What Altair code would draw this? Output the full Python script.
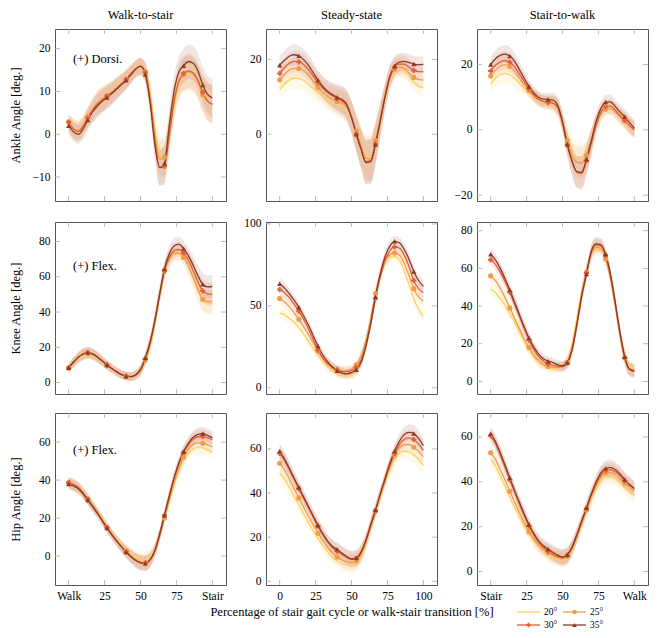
import altair as alt
import pandas as pd

FONT = "Liberation Serif"
SERIES = ["20°", "25°", "30°", "35°"]
COLORS = ["#FCD25B", "#F29A4A", "#E25F37", "#8C3A27"]
SHAPES = ["circle", "circle", "cross", "triangle-up"]

# sampling grid (% of cycle) and marker positions
X = [0, 3.33, 6.67, 10, 13.33, 16.67, 20, 23.33, 26.67, 30, 33.33, 36.67, 40, 43.33, 46.67,
     50, 53.33, 56.67, 60, 63.33, 66.67, 70, 73.33, 76.67, 80, 83.33, 86.67, 90, 93.33, 96.67, 100]
MARK_X = [0, 13.33, 26.67, 40, 53.33, 66.67, 80, 93.33]
X_TICKS = [0, 25, 50, 75, 100]

# ---------------- Ankle ----------------
ankle_ws_20 = [2.6, 1.3, 1.0, 2.2, 4.2, 6.0, 7.4, 8.4, 9.2, 10.0, 11.0, 12.0, 13.0, 14.2, 15.2, 15.6, 14.8, 10.0, 1.5, -4.2, -5.5, -1.0, 6.5, 11.5, 13.5, 14.3, 13.9, 12.0, 9.2, 7.6, 7.2]
ankle_ws_25 = [2.9, 1.4, 0.9, 2.1, 4.1, 5.9, 7.3, 8.3, 9.1, 9.9, 10.9, 11.9, 12.9, 14.2, 15.3, 15.8, 14.6, 8.8, 0.0, -5.8, -5.3, 0.5, 8.0, 12.3, 14.0, 14.6, 14.1, 12.3, 9.3, 7.6, 7.0]
ankle_ws_30 = [2.8, 1.2, 0.6, 1.8, 3.8, 5.6, 7.0, 8.0, 8.8, 9.7, 10.7, 11.7, 12.8, 14.1, 15.3, 15.9, 14.5, 8.0, -1.5, -7.8, -7.5, -0.5, 7.5, 12.3, 14.2, 14.8, 14.3, 12.6, 9.8, 7.8, 7.0]
ankle_ws_35 = [2.0, 0.6, 0.0, 1.2, 3.3, 5.2, 6.6, 7.7, 8.6, 9.5, 10.5, 11.6, 12.6, 13.9, 15.2, 15.9, 14.0, 7.5, -2.5, -7.8, -6.8, 2.0, 10.0, 14.5, 16.0, 17.0, 16.6, 14.8, 11.5, 9.3, 8.5]
ankle_ws_sd = [2.0, 2.2, 2.3, 2.3, 2.4, 2.6, 2.8, 2.8, 2.7, 2.6, 2.5, 2.3, 2.2, 2.1, 2.0, 2.0, 2.3, 3.0, 3.5, 4.2, 4.5, 4.0, 3.6, 3.8, 4.0, 4.0, 4.0, 4.0, 4.2, 4.4, 4.5]

ankle_ss_20 = [11.8, 13.4, 14.5, 15.0, 14.9, 14.4, 13.4, 12.3, 11.2, 10.2, 9.3, 8.6, 8.1, 7.7, 6.8, 4.4, 0.8, -3.0, -6.0, -6.3, -2.5, 3.5, 10.0, 14.8, 17.0, 17.5, 16.9, 15.6, 14.0, 12.9, 12.4]
ankle_ss_25 = [14.6, 16.0, 17.2, 17.7, 17.6, 17.0, 15.8, 14.2, 12.6, 11.3, 10.2, 9.4, 8.8, 8.3, 7.2, 4.6, 0.8, -3.0, -6.4, -6.6, -1.7, 4.2, 10.5, 15.2, 17.4, 18.0, 17.6, 16.4, 15.2, 14.7, 14.5]
ankle_ss_30 = [16.3, 17.8, 19.0, 19.5, 19.4, 18.7, 17.3, 15.6, 13.9, 12.4, 11.2, 10.3, 9.5, 8.9, 7.7, 4.5, 0.0, -4.0, -7.3, -7.1, -2.6, 3.6, 10.0, 15.2, 17.8, 18.8, 18.8, 18.0, 17.1, 16.8, 16.8]
ankle_ss_35 = [18.5, 19.8, 20.9, 21.3, 21.0, 20.0, 18.5, 16.5, 14.5, 12.8, 11.5, 10.6, 9.9, 9.3, 8.0, 4.5, 0.0, -4.0, -7.6, -7.4, -2.8, 3.5, 10.0, 15.5, 18.3, 19.3, 19.5, 19.2, 18.8, 18.6, 18.7]
ankle_ss_sd = [2.5, 2.6, 2.7, 2.8, 2.8, 2.8, 2.8, 2.8, 2.8, 2.9, 3.0, 3.2, 3.4, 3.6, 3.9, 4.3, 4.8, 5.3, 5.8, 6.0, 5.5, 4.5, 3.5, 3.0, 2.6, 2.4, 2.3, 2.2, 2.2, 2.2, 2.2]

ankle_sw_20 = [14.0, 15.8, 16.9, 17.2, 16.8, 15.7, 14.2, 12.8, 11.5, 10.2, 9.0, 8.3, 8.0, 7.8, 6.7, 3.0, -2.0, -6.0, -8.6, -9.2, -7.8, -3.5, 1.5, 5.0, 6.7, 7.0, 6.0, 4.4, 3.0, 1.5, 0.3]
ankle_sw_25 = [16.5, 18.3, 19.5, 20.0, 19.4, 18.0, 15.9, 13.8, 12.0, 10.4, 9.3, 8.7, 8.5, 8.3, 7.0, 2.5, -3.3, -7.8, -10.0, -10.2, -7.8, -3.3, 1.5, 4.8, 6.3, 6.5, 5.5, 3.9, 2.7, 1.2, 0.0]
ankle_sw_30 = [18.0, 19.8, 20.8, 21.2, 20.7, 19.3, 17.1, 14.8, 12.6, 10.7, 9.4, 8.7, 8.4, 8.2, 6.8, 2.0, -4.5, -9.8, -13.0, -13.3, -9.5, -4.2, 1.3, 5.3, 7.1, 7.3, 6.1, 4.4, 2.9, 1.3, 0.0]
ankle_sw_35 = [20.0, 21.8, 22.8, 23.2, 22.6, 21.0, 18.5, 15.8, 13.3, 11.3, 10.0, 9.4, 9.3, 9.1, 7.5, 2.5, -4.5, -9.5, -12.8, -13.0, -9.0, -3.5, 2.5, 6.5, 8.5, 8.6, 7.2, 5.5, 4.0, 2.2, 0.5]
ankle_sw_sd = [2.4, 2.6, 2.8, 2.8, 2.8, 2.6, 2.4, 2.2, 2.0, 2.0, 2.0, 2.0, 2.1, 2.3, 2.6, 3.0, 3.6, 4.3, 4.8, 5.0, 4.6, 3.8, 3.0, 2.4, 2.2, 2.2, 2.2, 2.3, 2.4, 2.5, 2.5]

# ---------------- Knee ----------------
knee_ws_20 = [8.2, 11.0, 13.6, 15.4, 16.2, 15.7, 14.1, 12.0, 9.9, 8.0, 6.3, 4.8, 3.8, 3.5, 4.2, 6.4, 12.0, 20.5, 33.0, 48.0, 61.5, 69.5, 72.8, 73.0, 71.0, 66.0, 59.0, 52.0, 46.8, 45.0, 44.8]
knee_ws_25 = [8.3, 11.3, 14.0, 15.9, 16.6, 16.0, 14.3, 12.1, 9.9, 7.9, 6.1, 4.5, 3.5, 3.3, 4.1, 6.6, 12.8, 21.5, 34.5, 49.5, 63.5, 70.0, 73.5, 73.5, 71.0, 66.0, 59.5, 53.0, 47.3, 46.0, 46.0]
knee_ws_30 = [8.4, 11.5, 14.3, 16.2, 17.0, 16.3, 14.5, 12.3, 10.0, 8.0, 6.2, 4.6, 3.6, 3.4, 4.3, 7.0, 13.5, 22.5, 35.5, 50.5, 63.5, 71.0, 74.8, 75.5, 73.5, 69.5, 63.5, 57.0, 52.0, 50.3, 50.0]
knee_ws_35 = [8.4, 11.5, 14.3, 16.2, 17.0, 16.3, 14.5, 12.3, 10.0, 8.0, 6.2, 4.6, 3.6, 3.4, 4.4, 7.5, 14.0, 23.0, 35.0, 50.0, 64.5, 73.0, 77.5, 78.5, 76.0, 72.0, 66.5, 60.5, 55.8, 54.3, 54.5]
knee_ws_sd = [2.5, 2.8, 3.0, 3.2, 3.2, 3.1, 3.0, 2.8, 2.6, 2.5, 2.5, 2.5, 2.5, 2.5, 2.6, 3.0, 3.5, 4.0, 4.3, 4.5, 4.5, 4.3, 4.2, 4.2, 4.3, 4.8, 5.5, 6.0, 6.5, 6.5, 6.5]

knee_ss_20 = [45.5, 44.5, 42.5, 40.0, 36.8, 32.8, 28.5, 24.0, 19.8, 15.8, 12.8, 10.5, 8.8, 7.7, 7.2, 7.8, 10.0, 15.5, 25.5, 39.5, 55.0, 67.5, 76.0, 79.8, 80.2, 78.0, 71.5, 63.0, 54.5, 48.0, 43.5]
knee_ss_25 = [54.5, 52.5, 49.5, 45.8, 41.8, 37.3, 32.5, 27.5, 22.5, 18.0, 14.5, 12.0, 10.8, 10.3, 10.5, 11.5, 14.0, 19.5, 29.0, 42.5, 57.5, 69.5, 77.5, 81.3, 82.3, 81.0, 76.0, 68.5, 60.5, 55.5, 53.0]
knee_ss_30 = [60.0, 58.0, 55.0, 51.0, 46.8, 41.8, 36.0, 29.5, 23.0, 18.3, 15.0, 12.7, 11.0, 10.0, 9.8, 10.5, 12.5, 17.0, 26.0, 39.0, 54.5, 67.5, 77.5, 83.5, 86.0, 85.3, 81.0, 74.0, 65.5, 60.5, 58.0]
knee_ss_35 = [63.5, 61.0, 57.5, 53.5, 49.2, 44.0, 38.3, 31.8, 25.5, 20.0, 16.0, 12.8, 10.3, 9.0, 8.5, 9.2, 11.0, 15.5, 25.5, 39.0, 55.5, 69.5, 80.0, 86.5, 89.4, 88.5, 84.5, 78.5, 71.0, 65.5, 62.0]
knee_ss_sd = [3.5, 3.5, 3.4, 3.3, 3.2, 3.1, 3.0, 3.0, 3.0, 3.0, 3.0, 3.0, 3.0, 3.0, 3.0, 3.0, 3.2, 3.4, 3.6, 3.8, 3.8, 3.6, 3.4, 3.2, 3.2, 3.2, 3.3, 3.4, 3.5, 3.5, 3.5]

knee_sw_20 = [49.0, 47.0, 44.0, 40.3, 36.0, 31.3, 26.3, 21.3, 16.8, 13.0, 10.0, 8.0, 7.0, 6.6, 6.8, 8.0, 11.5, 20.0, 33.5, 48.0, 59.0, 67.0, 70.3, 69.8, 64.5, 55.0, 41.0, 26.0, 14.0, 8.0, 7.0]
knee_sw_25 = [56.0, 53.5, 49.5, 44.5, 39.0, 33.5, 28.0, 22.8, 18.0, 14.0, 11.0, 9.0, 7.9, 7.4, 7.4, 7.8, 10.0, 17.5, 31.0, 46.0, 58.0, 67.5, 71.3, 70.5, 65.0, 55.0, 40.5, 25.0, 12.5, 6.5, 6.0]
knee_sw_30 = [64.5, 62.0, 58.0, 53.0, 47.3, 41.0, 34.5, 28.0, 22.0, 17.0, 13.3, 10.8, 9.3, 8.5, 7.9, 7.8, 9.8, 17.0, 30.5, 45.5, 57.5, 68.5, 72.5, 72.0, 67.0, 56.5, 41.5, 25.5, 12.5, 6.3, 5.5]
knee_sw_35 = [67.5, 64.5, 60.0, 54.5, 48.5, 42.0, 35.5, 29.0, 23.0, 18.3, 14.5, 12.0, 10.7, 10.0, 8.8, 8.3, 10.0, 17.0, 30.0, 45.0, 57.0, 69.0, 73.0, 72.5, 67.5, 57.0, 42.0, 26.0, 13.0, 6.5, 5.5]
knee_sw_sd = [3.0, 3.2, 3.4, 3.5, 3.5, 3.5, 3.4, 3.3, 3.2, 3.0, 2.8, 2.6, 2.5, 2.5, 2.5, 2.6, 3.0, 3.4, 3.8, 4.0, 3.8, 3.6, 3.5, 3.5, 3.6, 3.8, 4.0, 4.0, 3.8, 3.5, 3.5]

# ---------------- Hip ----------------
hip_ws_20 = [38.0, 37.2, 35.8, 33.2, 29.9, 26.5, 23.0, 19.3, 15.5, 12.0, 8.8, 5.9, 3.3, 1.0, -0.6, -1.5, -1.6, -0.3, 3.5, 10.5, 19.5, 28.5, 37.3, 44.5, 50.3, 54.3, 56.5, 57.3, 57.0, 56.0, 54.5]
hip_ws_25 = [38.5, 37.5, 36.0, 33.2, 29.8, 26.3, 22.8, 19.0, 15.0, 11.5, 8.2, 5.2, 2.6, 0.2, -1.7, -3.0, -3.4, -2.0, 2.5, 10.5, 20.0, 29.5, 38.5, 46.0, 52.0, 56.3, 58.8, 59.6, 59.4, 58.5, 57.5]
hip_ws_30 = [38.8, 37.8, 36.2, 33.4, 30.0, 26.5, 22.9, 19.0, 15.0, 11.4, 8.0, 5.0, 2.3, -0.2, -2.2, -3.4, -3.6, -1.8, 3.0, 11.5, 21.5, 31.5, 41.0, 48.5, 54.5, 58.5, 61.5, 62.8, 63.0, 62.3, 61.3]
hip_ws_35 = [37.9, 37.0, 35.5, 32.8, 29.5, 26.0, 22.5, 18.7, 14.8, 11.3, 8.0, 5.0, 2.2, -0.3, -2.3, -3.5, -3.8, -2.0, 3.0, 11.5, 21.5, 31.5, 41.0, 49.0, 55.0, 59.5, 62.5, 64.0, 64.5, 63.5, 62.3]
hip_ws_sd = [3.0, 3.0, 3.0, 2.9, 2.8, 2.7, 2.6, 2.6, 2.6, 2.7, 2.8, 3.0, 3.2, 3.5, 3.8, 4.0, 4.0, 3.8, 3.5, 3.3, 3.2, 3.2, 3.2, 3.3, 3.4, 3.5, 3.5, 3.5, 3.5, 3.5, 3.5]

hip_ss_20 = [49.0, 46.3, 42.6, 38.5, 34.5, 30.5, 26.6, 22.9, 19.4, 16.2, 13.4, 11.0, 9.2, 8.0, 7.2, 6.9, 7.8, 11.0, 16.7, 24.0, 31.0, 38.0, 44.6, 50.5, 55.2, 58.0, 59.0, 58.7, 57.3, 55.2, 52.5]
hip_ss_25 = [53.5, 50.5, 46.5, 42.0, 37.8, 33.6, 29.5, 25.5, 21.8, 18.3, 15.3, 12.8, 11.0, 9.7, 8.8, 8.5, 9.3, 12.3, 17.8, 24.8, 32.0, 39.0, 45.8, 52.0, 57.3, 60.5, 62.0, 62.0, 60.8, 58.8, 56.5]
hip_ss_30 = [58.0, 54.8, 50.7, 46.3, 42.0, 37.7, 33.4, 29.2, 25.0, 21.2, 17.9, 15.3, 13.6, 12.2, 10.8, 9.9, 10.3, 13.0, 18.3, 25.2, 32.0, 39.3, 46.0, 52.5, 58.0, 62.0, 64.3, 65.0, 64.3, 62.3, 59.5]
hip_ss_35 = [59.0, 55.5, 51.3, 46.8, 42.6, 38.3, 34.0, 29.7, 25.4, 21.6, 18.3, 15.9, 14.5, 12.8, 11.2, 10.2, 10.6, 13.3, 18.6, 25.5, 32.3, 39.5, 46.5, 53.5, 59.0, 63.5, 66.5, 67.5, 67.0, 64.8, 61.5]
hip_ss_sd = [3.5, 3.4, 3.3, 3.2, 3.1, 3.0, 3.0, 3.0, 3.0, 3.0, 3.1, 3.2, 3.3, 3.4, 3.5, 3.6, 3.6, 3.5, 3.4, 3.3, 3.2, 3.2, 3.2, 3.2, 3.3, 3.4, 3.5, 3.6, 3.7, 3.8, 3.8]

hip_sw_20 = [50.0, 47.0, 42.7, 38.0, 33.3, 28.7, 24.5, 20.5, 16.8, 13.6, 11.0, 9.0, 7.5, 6.2, 5.3, 5.0, 6.0, 9.5, 15.0, 21.0, 26.8, 32.3, 37.0, 40.5, 42.3, 42.5, 41.5, 39.5, 37.3, 35.5, 34.0]
hip_sw_25 = [53.0, 50.0, 45.5, 40.8, 35.8, 31.0, 26.3, 21.8, 17.8, 14.5, 11.8, 9.8, 8.5, 7.2, 6.2, 5.8, 6.8, 10.3, 15.8, 21.8, 27.5, 33.3, 38.3, 42.2, 44.0, 44.2, 43.3, 41.5, 39.5, 37.6, 36.0]
hip_sw_30 = [60.5, 57.0, 52.0, 46.5, 40.8, 35.3, 30.0, 25.0, 20.3, 16.3, 13.0, 10.7, 9.1, 7.8, 6.8, 6.2, 7.2, 10.5, 16.0, 22.0, 28.0, 34.0, 39.0, 43.0, 45.0, 45.3, 44.5, 42.8, 40.5, 38.5, 37.0]
hip_sw_35 = [61.5, 58.0, 53.0, 47.5, 41.8, 36.2, 31.0, 25.8, 21.0, 17.0, 13.8, 11.5, 10.0, 8.6, 7.3, 6.5, 7.5, 11.0, 16.5, 22.5, 28.5, 34.5, 39.8, 44.0, 46.0, 46.3, 45.5, 43.5, 41.0, 38.8, 37.0]
hip_sw_sd = [3.2, 3.2, 3.2, 3.1, 3.0, 3.0, 3.0, 3.0, 3.0, 3.0, 3.0, 3.1, 3.2, 3.3, 3.4, 3.5, 3.5, 3.4, 3.3, 3.2, 3.2, 3.2, 3.3, 3.4, 3.5, 3.5, 3.5, 3.5, 3.5, 3.5, 3.5]

# ---------------- layout constants ----------------
W, H = 171, 172
X_DOMAIN = [-9.5, 109.5]
TICK_LEN = 5
TICK_COLOR = "#a8a8a8"
LBL_WS = "datum.value == 0 ? 'Walk' : (datum.value == 100 ? 'Stair' : datum.label)"
LBL_SS = "datum.label"
LBL_SW = "datum.value == 0 ? 'Stair' : (datum.value == 100 ? 'Walk' : datum.label)"
XTITLE = "Percentage of stair gait cycle or walk-stair transition [%]"


def panel(vals, sd, ydom, yticks, title=None, ytitle=None, xlab=None, xtitle=None,
          note=None, legend=False):
    recs = []
    for name, ys in zip(SERIES, vals):
        for xv, yv, d in zip(X, ys, sd):
            recs.append({"x": xv, "y": yv, "lo": round(yv - d, 2), "hi": round(yv + d, 2),
                         "s": name, "m": bool(xv in MARK_X and name != "20°")})
    df = pd.DataFrame(recs)
    xsc = alt.Scale(domain=X_DOMAIN, nice=False, zero=False)
    ysc = alt.Scale(domain=ydom, nice=False, zero=False)
    if xlab is None:
        xaxis = None
    else:
        kw = dict(values=X_TICKS, ticks=False, domain=False, grid=False, labelPadding=5,
                  labelExpr=xlab, labelFont=FONT, labelFontSize=11.5, labelColor="black",
                  labelFlush=False, title=xtitle if xtitle else None)
        if xtitle:
            kw.update(titleFont=FONT, titleFontSize=12.5, titleFontWeight="normal",
                      titleColor="black", titlePadding=4)
        xaxis = alt.Axis(**kw)
    ykw = dict(values=yticks, ticks=False, domain=False, grid=False, labelPadding=5,
               minExtent=29, maxExtent=29, labelFont=FONT, labelFontSize=11.5,
               labelColor="black", labelFlush=False, title=ytitle if ytitle else None)
    if ytitle:
        ykw.update(titleFont=FONT, titleFontSize=12.5, titleFontWeight="normal",
                   titleColor="black", titlePadding=4)
    yaxis = alt.Axis(**ykw)

    def xe(f):
        return alt.X(f, scale=xsc, axis=xaxis)

    def ye(f):
        return alt.Y(f, scale=ysc, axis=yaxis)

    col = alt.Color("s:N", scale=alt.Scale(domain=SERIES, range=COLORS), legend=None)
    base = alt.Chart(df)
    band = base.mark_area(opacity=0.13, interpolate="monotone").encode(
        x=xe("x:Q"), y=ye("lo:Q"), y2="hi:Q", color=col)
    line = base.mark_line(strokeWidth=1.3, interpolate="monotone").encode(
        x=xe("x:Q"), y=ye("y:Q"), color=col)
    pts = base.transform_filter("datum.m").mark_point(
        filled=True, size=26, opacity=1, strokeWidth=0).encode(
        x=xe("x:Q"), y=ye("y:Q"), color=col,
        shape=alt.Shape("s:N", scale=alt.Scale(domain=SERIES, range=SHAPES), legend=None))

    txdf = pd.DataFrame({"t": X_TICKS})
    tydf = pd.DataFrame({"t": yticks})
    rule = dict(color=TICK_COLOR, strokeWidth=0.8)
    t_top = alt.Chart(txdf).mark_rule(**rule).encode(
        x=xe("t:Q"), y=alt.value(0), y2=alt.value(TICK_LEN))
    t_bot = alt.Chart(txdf).mark_rule(**rule).encode(
        x=xe("t:Q"), y=alt.value(H - TICK_LEN), y2=alt.value(H))
    t_lef = alt.Chart(tydf).mark_rule(**rule).encode(
        y=ye("t:Q"), x=alt.value(0), x2=alt.value(TICK_LEN))
    t_rig = alt.Chart(tydf).mark_rule(**rule).encode(
        y=ye("t:Q"), x=alt.value(W - TICK_LEN), x2=alt.value(W))

    layers = [band, t_top, t_bot, t_lef, t_rig, line, pts]

    if note:
        txt, ny = note
        layers.append(alt.Chart(pd.DataFrame({"t": [txt]})).mark_text(
            align="left", baseline="middle", font=FONT, fontSize=12.5, color="black").encode(
            x=alt.value(18), y=alt.value(ny), text="t:N"))

    if legend:
        pos = [(40, 199), (86, 199), (40, 212), (86, 212)]
        for name, c, shp, (lx, ly) in zip(SERIES, COLORS, SHAPES, pos):
            b = alt.Chart(pd.DataFrame({"t": [name]}))
            layers.append(b.mark_rule(color=c, strokeWidth=1.3).encode(
                x=alt.value(lx), x2=alt.value(lx + 23), y=alt.value(ly)))
            if name != "20°":
                layers.append(b.mark_point(shape=shp, filled=True, color=c, size=22,
                                           opacity=1, strokeWidth=0).encode(
                    x=alt.value(lx + 11.5), y=alt.value(ly)))
            layers.append(b.mark_text(align="left", baseline="middle", font=FONT,
                                      fontSize=9.5, color="black").encode(
                x=alt.value(lx + 27), y=alt.value(ly), text="t:N"))

    props = dict(width=W, height=H)
    if title:
        props["title"] = alt.TitleParams(text=title, font=FONT, fontSize=12.5,
                                         fontWeight="normal", color="black", offset=7)
    return alt.layer(*layers).properties(**props)


p11 = panel([ankle_ws_20, ankle_ws_25, ankle_ws_30, ankle_ws_35], ankle_ws_sd,
            [-15.6, 24.6], [-10, 0, 10, 20], title="Walk-to-stair",
            ytitle="Ankle Angle [deg.]", note=("(+) Dorsi.", 30))
p12 = panel([ankle_ss_20, ankle_ss_25, ankle_ss_30, ankle_ss_35], ankle_ss_sd,
            [-17.9, 28.2], [0, 20], title="Steady-state")
p13 = panel([ankle_sw_20, ankle_sw_25, ankle_sw_30, ankle_sw_35], ankle_sw_sd,
            [-21.8, 30.9], [-20, 0, 20], title="Stair-to-walk")

p21 = panel([knee_ws_20, knee_ws_25, knee_ws_30, knee_ws_35], knee_ws_sd,
            [-6.5, 91.1], [0, 20, 40, 60, 80], ytitle="Knee Angle [deg.]",
            note=("(+) Flex.", 44))
p22 = panel([knee_ss_20, knee_ss_25, knee_ss_30, knee_ss_35], knee_ss_sd,
            [-3.8, 101.2], [0, 50, 100])
p23 = panel([knee_sw_20, knee_sw_25, knee_sw_30, knee_sw_35], knee_sw_sd,
            [-6.7, 84.6], [0, 20, 40, 60, 80])

p31 = panel([hip_ws_20, hip_ws_25, hip_ws_30, hip_ws_35], hip_ws_sd,
            [-15.2, 75.3], [0, 20, 40, 60], ytitle="Hip Angle [deg.]", xlab=LBL_WS,
            note=("(+) Flex.", 37))
p32 = panel([hip_ss_20, hip_ss_25, hip_ss_30, hip_ss_35], hip_ss_sd,
            [-1.7, 76.3], [0, 20, 40, 60], xlab=LBL_SS, xtitle=XTITLE)
p33 = panel([hip_sw_20, hip_sw_25, hip_sw_30, hip_sw_35], hip_sw_sd,
            [-6.0, 70.7], [0, 20, 40, 60], xlab=LBL_SW, legend=True)

row1 = alt.hconcat(p11, p12, p13, spacing=40, bounds="flush")
row2 = alt.hconcat(p21, p22, p23, spacing=40, bounds="flush")
row3 = alt.hconcat(p31, p32, p33, spacing=40, bounds="flush")

chart = alt.vconcat(
    alt.vconcat(row1, row2, spacing=15),
    row3,
    spacing=17,
).properties(padding=0).configure_view(stroke="#555555", strokeWidth=1)

chart.save("out.html", embed_options={"renderer": "svg", "actions": False})
